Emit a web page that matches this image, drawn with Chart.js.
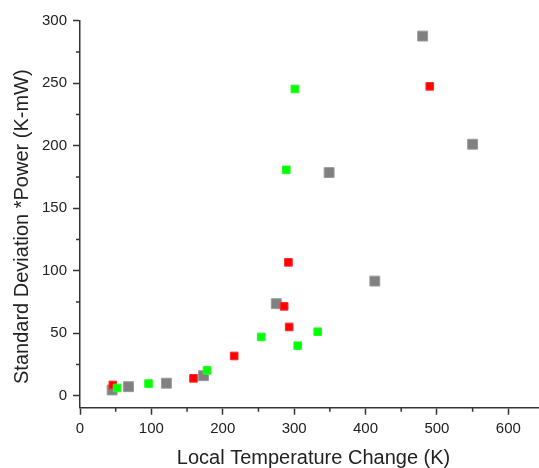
<!DOCTYPE html>
<html>
<head>
<meta charset="utf-8">
<script src="https://cdn.jsdelivr.net/npm/chart.js@4.4.1/dist/chart.umd.min.js"></script>
<style>
  html, body { margin: 0; padding: 0; background: #fff; }
  #chart { display: block; }
</style>
</head>
<body>
<canvas id="chart" width="539" height="468"></canvas>
<script>
// values
const grayX = [45, 68, 121, 173, 275, 349, 413, 480, 550];
const grayY = [4.6, 7.2, 10, 16, 73.6, 178.5, 91.7, 287.7, 201.2];
const redX = [46, 159, 216, 286, 292, 293, 490];
const redY = [8.6, 13.9, 31.8, 71.5, 106.7, 55, 247.5];
const greenX = [52, 96, 178, 254, 289, 301, 305, 333];
const greenY = [6.2, 9.7, 20.3, 47, 180.7, 245.4, 40, 51.2];

const xMajor = [0, 100, 200, 300, 400, 500, 600];
const xMinor = [50, 150, 250, 350, 450, 550];
const yMajor = [0, 50, 100, 150, 200, 250, 300];
const yMinor = [25, 75, 125, 175, 225, 275];

const xTitle = "Local Temperature Change (K)";
const yTitle = "Standard Deviation *Power (K-mW)";

const FONT = "'Liberation Sans', Arial, sans-serif";
const AXIS = "#333";

function toPoints(xs, ys) {
  return xs.map((x, i) => ({ x: x, y: ys[i] }));
}

// small ticks between the labelled ones, plus the two axis titles
const extras = {
  id: "extras",
  afterDraw(chart) {
    const ctx = chart.ctx;
    const xs = chart.scales.x;
    const ys = chart.scales.y;
    ctx.save();
    ctx.strokeStyle = AXIS;
    ctx.lineWidth = 1.5;
    ctx.beginPath();
    xMinor.forEach(v => {
      const px = xs.getPixelForValue(v);
      ctx.moveTo(px, xs.top);
      ctx.lineTo(px, xs.top + 4);
    });
    yMinor.forEach(v => {
      const py = ys.getPixelForValue(v);
      ctx.moveTo(ys.right, py);
      ctx.lineTo(ys.right - 4, py);
    });
    ctx.stroke();

    ctx.fillStyle = "#222";
    ctx.font = "20px " + FONT;
    ctx.textAlign = "center";
    ctx.textBaseline = "alphabetic";
    // x title: centred a little right of the plot middle, as in the source
    ctx.fillText(xTitle, (xs.left + xs.right) / 2 + 4, chart.height - 4);
    // y title: rotated, sitting a bit below the plot middle
    ctx.translate(ys.left + 28, (ys.top + ys.bottom) / 2 + 12.5);
    ctx.rotate(-Math.PI / 2);
    ctx.fillText(yTitle, 0, 0);
    ctx.restore();
  }
};

new Chart(document.getElementById("chart"), {
  type: "scatter",
  data: {
    datasets: [
      {
        label: "green",
        data: toPoints(greenX, greenY),
        pointStyle: "rect",
        pointRadius: 5.4,
        backgroundColor: "#00ff00",
        borderColor: "#22ff22",
        borderWidth: 1
      },
      {
        label: "red",
        data: toPoints(redX, redY),
        pointStyle: "rect",
        pointRadius: 5.4,
        backgroundColor: "#ff0000",
        borderColor: "#ff2a2a",
        borderWidth: 1
      },
      {
        label: "gray",
        data: toPoints(grayX, grayY),
        pointStyle: "rect",
        pointRadius: 7,
        backgroundColor: "#808080",
        borderColor: "#9a9a9a",
        borderWidth: 1
      }
    ]
  },
  options: {
    responsive: false,
    animation: false,
    events: [],
    layout: { autoPadding: false, padding: { top: 20.7, right: 0, bottom: 0, left: 0 } },
    plugins: {
      legend: { display: false },
      tooltip: { enabled: false }
    },
    scales: {
      x: {
        type: "linear",
        position: "bottom",
        min: 0,
        max: 643,
        afterBuildTicks: s => { s.ticks = xMajor.map(v => ({ value: v })); },
        afterFit: s => { s.height = 60.3; s.paddingRight = 0; s.paddingLeft = 0; },
        border: { display: true, color: AXIS, width: 1.5 },
        grid: { drawOnChartArea: false, drawTicks: true, tickLength: 7, tickColor: AXIS, tickWidth: 1.5 },
        ticks: { color: "#222", font: { family: FONT, size: 15 }, padding: 5, maxRotation: 0 },
        title: { display: false }
      },
      y: {
        type: "linear",
        min: -9.6,
        max: 300,
        afterBuildTicks: s => { s.ticks = yMajor.map(v => ({ value: v })); },
        afterFit: s => { s.width = 80; s.paddingTop = 0; s.paddingBottom = 0; },
        border: { display: true, color: AXIS, width: 1.5 },
        grid: { drawOnChartArea: false, drawTicks: true, tickLength: 7, tickColor: AXIS, tickWidth: 1.5 },
        ticks: { color: "#222", font: { family: FONT, size: 15 }, padding: 6 },
        title: { display: false }
      }
    }
  },
  plugins: [extras]
});
</script>
</body>
</html>
